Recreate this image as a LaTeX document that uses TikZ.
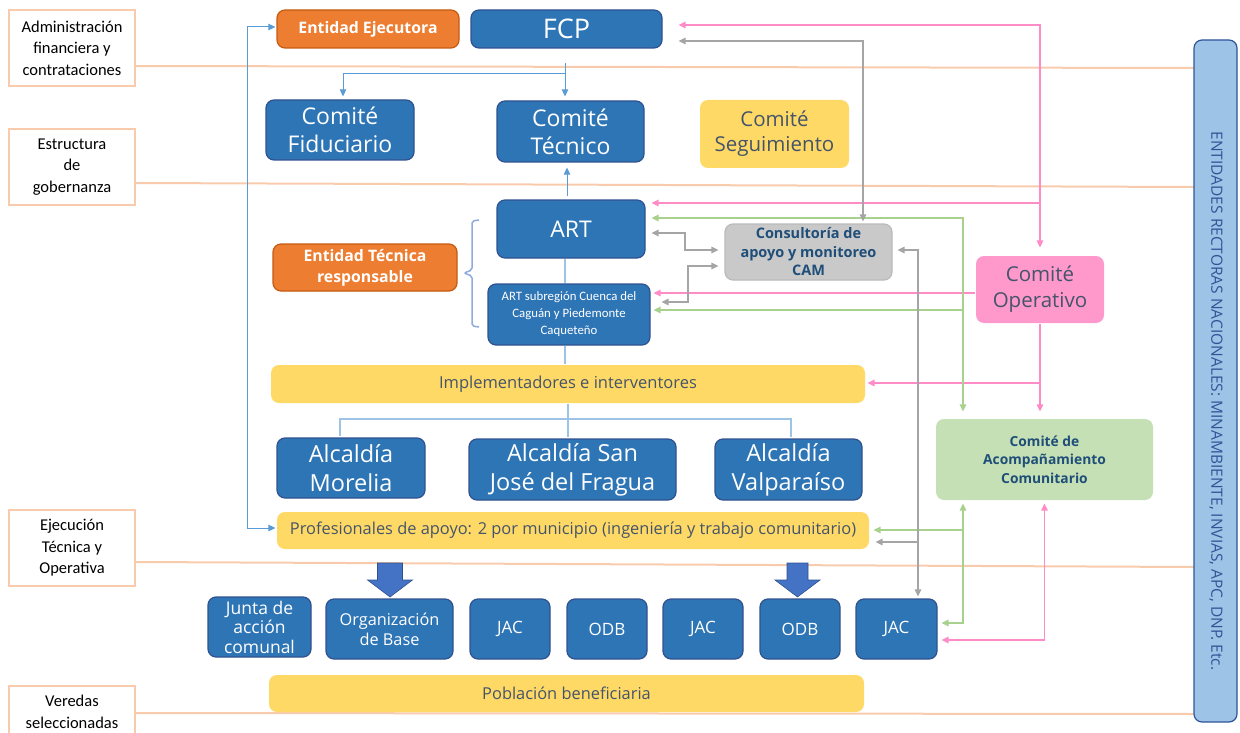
\documentclass[tikz,border=0pt]{standalone}
\usepackage{fontspec}
\setmainfont{Open Sans}
\newfontfamily\calib{Carlito}
\usetikzlibrary{arrows.meta,calc}
\definecolor{cBlue}{HTML}{2E75B6}
\definecolor{cBlueD}{HTML}{2F528F}
\definecolor{cOra}{HTML}{ED7D31}
\definecolor{cOraD}{HTML}{C55A11}
\definecolor{cYel}{HTML}{FFD966}
\definecolor{cGrnF}{HTML}{C5E0B4}
\definecolor{cPnkF}{HTML}{FF99CC}
\definecolor{cGryF}{HTML}{C9C9C9}
\definecolor{cEnt}{HTML}{9DC3E6}
\definecolor{cEntD}{HTML}{2F5597}
\definecolor{cTxt}{HTML}{44546A}
\definecolor{cDkB}{HTML}{1F4E79}
\definecolor{cPeach}{HTML}{F8CBAD}
\definecolor{cPnk}{HTML}{FF8CC6}
\definecolor{cGrn}{HTML}{A9D18E}
\definecolor{cGry}{HTML}{A5A5A5}
\definecolor{cLine}{HTML}{5B9BD5}
\definecolor{cLight}{HTML}{9DC3E6}
\definecolor{cBrk}{HTML}{8FAADC}
\definecolor{cArr}{HTML}{4472C4}
\newcommand\fs[2]{\fontsize{#1}{#2}\selectfont}
\begin{document}
\begin{tikzpicture}[x=1pt,y=-1pt,
  box/.style={rounded corners=8pt, align=center, inner sep=0pt, line width=1.2pt},
  bluebox/.style={box, fill=cBlue, draw=cBlueD, text=white},
  orabox/.style={box, fill=cOra, draw=cOraD, text=white, font=\bfseries\fs{15.8}{21}},
  yelbox/.style={box, fill=cYel, text=cTxt},
  lab/.style={draw=cPeach, line width=1.2pt, fill=white, align=center, inner sep=0pt,
    font=\calib\fs{16.5}{21.5}, minimum width=126pt, minimum height=76pt},
  peach/.style={draw=cPeach, line width=2pt},
  pk/.style={draw=cPnk, line width=1.5pt},
  gn/.style={draw=cGrn, line width=1.5pt},
  gy/.style={draw=cGry, line width=1.5pt},
  bl/.style={draw=cLine, line width=1pt},
  lb/.style={draw=cLight, line width=1.3pt},
  blockarr/.style={fill=cArr, draw=cBlueD, line width=0.6pt},
  >={Triangle[length=7pt,width=6.5pt]}
]
\useasboundingbox (0,0) rectangle (1240,733);
% peach guide lines
\draw[peach] (135,66) -- (1194,68);
\draw[peach] (135,183) -- (1194,187);
\draw[peach] (135,562) -- (1194,567);
\draw[peach] (135,713) -- (1194,714);

% left labels
\node[lab] (l1) at (72,48) {Administración\\financiera y\\contrataciones};
\node[lab] (l2) at (72,167) {Estructura\\de\\gobernanza};
\node[lab] (l3) at (72,548) {Ejecución\\Técnica y\\Operativa};
\draw[draw=cPeach, line width=1.2pt, fill=white] (9,686) rectangle (135,770);
\node[align=center, inner sep=0pt, font=\calib\fs{16.5}{21.5}] (l4) at (72,712) {Veredas\\seleccionadas};

% national entities bar
\node[box, fill=cEnt, draw=cEntD, minimum width=43pt, minimum height=682pt] (ent) at (1215.5,381) {};
\node[rotate=-90, inner sep=0pt, text=cEntD, font=\fs{15.5}{18}] (entt) at (1216,401)
  {ENTIDADES RECTORAS NACIONALES: MINAMBIENTE, INVIAS, APC, DNP. Etc.};

% top
\node[orabox, minimum width=182pt, minimum height=38pt] (ejec) at (368,29) {Entidad Ejecutora};
\node[bluebox, minimum width=191pt, minimum height=38pt, font=\fs{27}{30}] (fcp) at (566.5,29) {FCP};
\node[bluebox, minimum width=148pt, minimum height=60pt, font=\fs{23}{28}] (fid) at (340,130) {Comité\\Fiduciario};
\node[bluebox, minimum width=147pt, minimum height=61pt, font=\fs{23}{28}] (tec) at (570.5,131.5) {Comité\\Técnico};
\node[yelbox, minimum width=149pt, minimum height=68pt, font=\fs{20.5}{25}] (seg) at (774.5,134) {Comité\\Seguimiento};

% ART
\node[bluebox, minimum width=148pt, minimum height=58pt, font=\fs{23}{28}] (art) at (571,229) {ART};
\node[bluebox, minimum width=162pt, minimum height=61pt, font=\calib\fs{12.8}{17}] (sub) at (569,314.5)
  {ART subregión Cuenca del\\Caguán y Piedemonte\\Caqueteño};
\node[orabox, minimum width=184pt, minimum height=47pt] (etr) at (365,267.5) {Entidad Técnica\\responsable};
\node[box, fill=cGryF, draw=cGryF!80!gray, text=cDkB, font=\bfseries\fs{14.5}{18.5},
  minimum width=167pt, minimum height=56pt] (cam) at (808.5,252) {Consultoría de\\apoyo y monitoreo\\CAM};
\node[box, fill=cPnkF, text=cTxt, font=\fs{20.5}{26}, minimum width=128pt, minimum height=67pt] (cop) at (1040,289.5) {Comité\\Operativo};

% middle
\node[yelbox, minimum width=594pt, minimum height=38pt, font=\fs{16.5}{18}] (imp) at (568,384) {Implementadores e interventores};
\node[bluebox, minimum width=148pt, minimum height=60pt, font=\fs{23.5}{29}] (alc1) at (351,468) {Alcaldía\\Morelia};
\node[bluebox, minimum width=207pt, minimum height=61pt, font=\fs{23.5}{29}] (alc2) at (572.5,469.5) {Alcaldía San\\José del Fragua};
\node[bluebox, minimum width=147pt, minimum height=61pt, font=\fs{23.5}{29}] (alc3) at (788.5,469.5) {Alcaldía\\Valparaíso};
\node[yelbox, minimum width=592pt, minimum height=37pt, font=\fs{16.4}{18}] (prof) at (573,530.5)
  {Profesionales de apoyo: 2 por municipio (ingeniería y trabajo comunitario)};
\node[box, fill=cGrnF, text=cDkB, font=\bfseries\fs{13.8}{18.5}, minimum width=217pt, minimum height=81pt] (cac) at (1044.5,459.5)
  {Comité de\\Acompañamiento\\Comunitario};

% bottom row
\node[bluebox, minimum width=103pt, minimum height=60pt, font=\fs{17.5}{19.5}] (b1) at (259.5,627) {Junta de\\acción\\comunal};
\node[bluebox, minimum width=127pt, minimum height=60pt, font=\fs{16.3}{20}] (b2) at (389.5,629) {Organización\\de Base};
\node[bluebox, minimum width=80pt, minimum height=60pt, font=\fs{17}{19}] (b3) at (510,629) {JAC};
\node[bluebox, minimum width=80pt, minimum height=60pt, font=\fs{17}{19}] (b4) at (607,629) {ODB};
\node[bluebox, minimum width=80pt, minimum height=60pt, font=\fs{17}{19}] (b5) at (703,629) {JAC};
\node[bluebox, minimum width=80pt, minimum height=60pt, font=\fs{17}{19}] (b6) at (800,629) {ODB};
\node[bluebox, minimum width=81pt, minimum height=60pt, font=\fs{17}{19}] (b7) at (896.5,629) {JAC};
\node[yelbox, minimum width=595pt, minimum height=37pt, font=\fs{16.4}{18}] (pob) at (566.5,693.5) {Población beneficiaria};

% block arrows
\draw[blockarr] (377.5,563) -- (402.5,563) -- (402.5,580) -- (412.5,580) -- (390,597) -- (367.5,580) -- (377.5,580) -- cycle;
\draw[blockarr] (787,563) -- (808,563) -- (808,580) -- (820,580) -- (797.5,597) -- (775,580) -- (787,580) -- cycle;

% bracket
\draw[draw=cBrk, line width=1.5pt, rounded corners=2pt] (479,220) -- (472,221) -- (472,270) -- (464,273) -- (472,276) -- (472,326) -- (479,327);

% blue connectors
\coordinate (fcpdown) at (565,63);
\coordinate (fsplit) at (565,74);
\draw[bl,->] (fcpdown) -- ($(tec.north)+(-5.5,-4)$);
\draw[bl,->] (fsplit) -- (343,74) -- ($(fid.north)+(3,-3)$);
\draw[bl,->] ($(art.north)+(-4,-3)$) -- ($(tec.south)+(-3.5,5)$);
\draw[bl,<->] ($(ejec.west)+(-1,-2)$) -- (247,27) -- (247,528) -- ($(prof.west)+(-1,-2.5)$);
\draw[lb] ($(art.south)+(-6,0)$) -- ($(sub.north)+(-4,0)$);
\draw[lb] ($(sub.south)+(-4,0)$) -- ($(imp.north)+(-3,0)$);
\draw[lb] (imp.south) -- ($(alc2.north)+(-4.5,-1)$);
\draw[lb] ($(alc1.north)+(-11,-1)$) -- (340,419) -- (791,419) -- ($(alc3.north)+(2.5,-1)$);

% pink connectors
\draw[pk,<->] ($(fcp.east)+(16,-4)$) -- (1040,25) -- ($(cop.north)+(0,-8)$);
\draw[pk,->] (1040,203) -- ($(art.east)+(6,-26)$);
\draw[pk,->] ($(cop.west)+(0,3.5)$) -- ($(sub.east)+(3,-21.5)$);
\draw[pk,->] (cop.south) -- ($(cac.north)+(-4.5,-7)$);
\draw[pk,->] (1040,383) -- ($(imp.east)+(2,-1)$);
\draw[pk,<->] ($(cac.south)+(0,3)$) -- (1044.5,640) -- ($(b7.east)+(4,11)$);

% green connectors
\draw[gn,<->] ($(art.east)+(6,-11)$) -- (963,218) -- ($(cac.north)+(-81.5,-7)$);
\draw[gn,->] (963,310) -- ($(sub.east)+(3,-4.5)$);
\draw[gn,<->] ($(cac.south)+(-81.5,3)$) -- (963,623) -- ($(b7.east)+(4,-6)$);
\draw[gn,->] (963,530) -- ($(prof.east)+(4,-0.5)$);

% gray connectors
\draw[gy,<->] ($(fcp.east)+(16,12)$) -- (863,41) -- ($(cam.north)+(54.5,-2)$);
\draw[gy,<->] ($(art.east)+(6,4)$) -- (685,233) -- (685,250) -- ($(cam.west)+(-6,-2)$);
\draw[gy,<->] ($(cam.west)+(-6,14)$) -- (688,266) -- (688,302) -- ($(sub.east)+(11,-12.5)$);
\draw[gy,<->] ($(cam.east)+(5,-2)$) -- (918,250) -- ($(b7.north)+(21.5,-2)$);
\draw[gy,->] (918,542) -- ($(prof.east)+(6,11.5)$);
\end{tikzpicture}
\end{document}
